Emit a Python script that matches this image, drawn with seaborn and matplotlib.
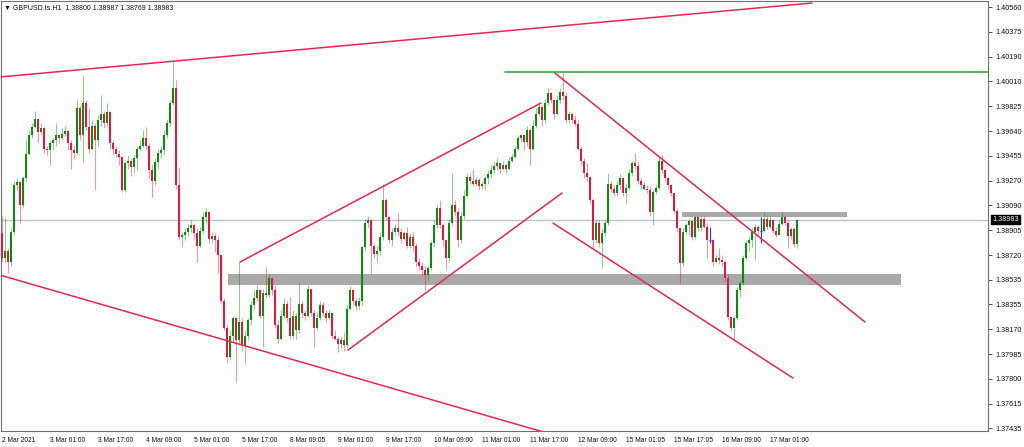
import matplotlib
matplotlib.use("Agg")
import matplotlib.pyplot as plt
import matplotlib.transforms as mtransforms
import numpy as np
import pandas as pd
import seaborn as sns

# ---------------------------------------------------------------
# GBPUSD H1 candles (2 Mar - 17 Mar 2021)
# ---------------------------------------------------------------
first_open = 1.3888

closes = [
    1.3870, 1.3875, 1.3867, 1.3889, 1.3924, 1.3926, 1.3909, 1.3929, 1.3947, 1.3961,
    1.3967, 1.3973, 1.3963, 1.3966, 1.3951, 1.3950, 1.3955, 1.3957, 1.3961, 1.3959,
    1.3962, 1.3964, 1.3955, 1.3950, 1.3948, 1.3981, 1.3961, 1.3985, 1.3967, 1.3951,
    1.3968, 1.3957, 1.3972, 1.3977, 1.3970, 1.3978, 1.3955, 1.3951, 1.3947, 1.3945,
    1.3920, 1.3940, 1.3942, 1.3937, 1.3944, 1.3951, 1.3953, 1.3959, 1.3953, 1.3935,
    1.3927, 1.3941, 1.3948, 1.3950, 1.3961, 1.3970, 1.3985, 1.3996, 1.3924, 1.3885,
    1.3887, 1.3889, 1.3892, 1.3894, 1.3888, 1.3879, 1.3890, 1.3900, 1.3904, 1.3884,
    1.3886, 1.3883, 1.3872, 1.3838, 1.3818, 1.3796, 1.3812, 1.3825, 1.3809, 1.3822,
    1.3805, 1.3812, 1.3824, 1.3835, 1.3840, 1.3846, 1.3827, 1.3844, 1.3842, 1.3855,
    1.3846, 1.3820, 1.3810, 1.3827, 1.3836, 1.3825, 1.3812, 1.3827, 1.3816, 1.3836,
    1.3829, 1.3827, 1.3847, 1.3829, 1.3818, 1.3825, 1.3835, 1.3829, 1.3825, 1.3829,
    1.3812, 1.3810, 1.3806, 1.3809, 1.3805, 1.3832, 1.3846, 1.3838, 1.3834, 1.3838,
    1.3878, 1.3896, 1.3898, 1.3879, 1.3873, 1.3875, 1.3885, 1.3913, 1.3900, 1.3883,
    1.3889, 1.3892, 1.3889, 1.3884, 1.3888, 1.3879, 1.3885, 1.3879, 1.3867, 1.3864,
    1.3861, 1.3857, 1.3862, 1.3881, 1.3894, 1.3907, 1.3894, 1.3883, 1.3870, 1.3896,
    1.3909, 1.3904, 1.3883, 1.3901, 1.3916, 1.3930, 1.3927, 1.3925, 1.3928, 1.3923,
    1.3925, 1.3929, 1.3932, 1.3935, 1.3938, 1.3940, 1.3936, 1.3939, 1.3936, 1.3942,
    1.3945, 1.3951, 1.3959, 1.3961, 1.3956, 1.3965, 1.3951, 1.3968, 1.3977, 1.3982,
    1.3972, 1.3985, 1.3992, 1.3987, 1.3977, 1.3987, 1.3993, 1.3990, 1.3972, 1.3977,
    1.3972, 1.3969, 1.3951, 1.3942, 1.3933, 1.3930, 1.3913, 1.3883, 1.3896, 1.3881,
    1.3888, 1.3896, 1.3925, 1.3921, 1.3918, 1.3924, 1.3929, 1.3918, 1.3922, 1.3933,
    1.3940, 1.3938, 1.3927, 1.3924, 1.3921, 1.3920, 1.3904, 1.3919, 1.3922, 1.3942,
    1.3935, 1.3929, 1.3924, 1.3918, 1.3905, 1.3892, 1.3866, 1.3889, 1.3894, 1.3897,
    1.3885, 1.3900, 1.3892, 1.3899, 1.3893, 1.3883, 1.3883, 1.3867, 1.3870, 1.3868,
    1.3867, 1.3855, 1.3826, 1.3818, 1.3825, 1.3846, 1.3851, 1.3870, 1.3881, 1.3883,
    1.3889, 1.3893, 1.3890, 1.3890, 1.3899, 1.3893, 1.3898, 1.3890, 1.3887, 1.3895,
    1.3900, 1.3896, 1.3886, 1.3891, 1.3880, 1.38983,
]

highs = [
    1.3901, 1.3900, 1.3877, 1.3892, 1.3927, 1.3929, 1.3927, 1.3931, 1.3957, 1.3965,
    1.3970, 1.3979, 1.3974, 1.3970, 1.3967, 1.3953, 1.3957, 1.3959, 1.3970, 1.3962,
    1.3966, 1.3968, 1.3965, 1.3957, 1.3953, 1.3988, 1.3983, 1.4005, 1.3987, 1.3981,
    1.3972, 1.3970, 1.3976, 1.3991, 1.3979, 1.3985, 1.3979, 1.3957, 1.3953, 1.3950,
    1.3945, 1.3942, 1.3946, 1.3944, 1.3946, 1.3953, 1.3957, 1.3965, 1.3967, 1.3955,
    1.3939, 1.3944, 1.3951, 1.3953, 1.3965, 1.3973, 1.3987, 1.4016, 1.4002, 1.3937,
    1.3889, 1.3892, 1.3895, 1.3898, 1.3896, 1.3892, 1.3893, 1.3904, 1.3907, 1.3905,
    1.3889, 1.3888, 1.3886, 1.3872, 1.3840, 1.3820, 1.3816, 1.3827, 1.3827, 1.3867,
    1.3825, 1.3816, 1.3825, 1.3838, 1.3846, 1.3850, 1.3847, 1.3847, 1.3863, 1.3858,
    1.3855, 1.3850, 1.3824, 1.3831, 1.3840, 1.3838, 1.3841, 1.3831, 1.3829, 1.3851,
    1.3838, 1.3831, 1.3850, 1.3846, 1.3831, 1.3829, 1.3838, 1.3837, 1.3831, 1.3831,
    1.3829, 1.3816, 1.3812, 1.3812, 1.3815, 1.3835, 1.3849, 1.3847, 1.3840, 1.3841,
    1.3879, 1.3899, 1.3901, 1.3899, 1.3881, 1.3879, 1.3889, 1.3925, 1.3914, 1.3901,
    1.3892, 1.3895, 1.3903, 1.3892, 1.3890, 1.3893, 1.3888, 1.3889, 1.3881, 1.3870,
    1.3867, 1.3864, 1.3864, 1.3883, 1.3898, 1.3909, 1.3913, 1.3896, 1.3884, 1.3899,
    1.3933, 1.3913, 1.3907, 1.3904, 1.3920, 1.3933, 1.3933, 1.3936, 1.3930, 1.3929,
    1.3927, 1.3931, 1.3935, 1.3939, 1.3942, 1.3944, 1.3941, 1.3942, 1.3940, 1.3945,
    1.3947, 1.3953, 1.3961, 1.3962, 1.3961, 1.3968, 1.3966, 1.3972, 1.3981, 1.3985,
    1.3983, 1.3988, 1.3996, 1.3993, 1.3988, 1.3991, 1.3996, 1.4007, 1.3993, 1.3979,
    1.3978, 1.3976, 1.3973, 1.3953, 1.3944, 1.3940, 1.3931, 1.3914, 1.3899, 1.3898,
    1.3891, 1.3898, 1.3933, 1.3927, 1.3924, 1.3927, 1.3932, 1.3930, 1.3925, 1.3936,
    1.3942, 1.3948, 1.3941, 1.3929, 1.3926, 1.3924, 1.3923, 1.3920, 1.3924, 1.3945,
    1.3946, 1.3936, 1.3930, 1.3925, 1.3919, 1.3907, 1.3893, 1.3892, 1.3896, 1.3899,
    1.3898, 1.3902, 1.3901, 1.3901, 1.3901, 1.3896, 1.3893, 1.3884, 1.3873, 1.3877,
    1.3872, 1.3868, 1.3858, 1.3827, 1.3827, 1.3848, 1.3853, 1.3872, 1.3883, 1.3886,
    1.3892, 1.3895, 1.3894, 1.3900, 1.3905, 1.3902, 1.3901, 1.3899, 1.3893, 1.3898,
    1.3904, 1.3902, 1.3898, 1.3893, 1.3893, 1.38987,
]

lows = [
    1.3867, 1.3866, 1.3859, 1.3864, 1.3887, 1.3920, 1.3896, 1.3907, 1.3927, 1.3946,
    1.3959, 1.3966, 1.3956, 1.3961, 1.3948, 1.3946, 1.3939, 1.3950, 1.3953, 1.3955,
    1.3957, 1.3960, 1.3950, 1.3936, 1.3944, 1.3946, 1.3957, 1.3941, 1.3965, 1.3948,
    1.3950, 1.3920, 1.3953, 1.3968, 1.3966, 1.3968, 1.3951, 1.3947, 1.3945, 1.3939,
    1.3919, 1.3919, 1.3936, 1.3931, 1.3933, 1.3935, 1.3950, 1.3952, 1.3950, 1.3929,
    1.3915, 1.3924, 1.3936, 1.3944, 1.3946, 1.3959, 1.3968, 1.3983, 1.3921, 1.3883,
    1.3878, 1.3883, 1.3886, 1.3889, 1.3884, 1.3867, 1.3878, 1.3888, 1.3896, 1.3881,
    1.3881, 1.3874, 1.3859, 1.3836, 1.3816, 1.3792, 1.3794, 1.3807, 1.3778, 1.3805,
    1.3801, 1.3792, 1.3809, 1.3820, 1.3832, 1.3838, 1.3825, 1.3804, 1.3840, 1.3841,
    1.3842, 1.3818, 1.3807, 1.3809, 1.3825, 1.3822, 1.3810, 1.3810, 1.3810, 1.3814,
    1.3825, 1.3824, 1.3826, 1.3827, 1.3804, 1.3816, 1.3824, 1.3827, 1.3822, 1.3824,
    1.3810, 1.3809, 1.3800, 1.3803, 1.3801, 1.3803, 1.3831, 1.3835, 1.3831, 1.3832,
    1.3835, 1.3875, 1.3893, 1.3858, 1.3870, 1.3867, 1.3872, 1.3883, 1.3898, 1.3881,
    1.3879, 1.3887, 1.3886, 1.3881, 1.3883, 1.3877, 1.3877, 1.3875, 1.3864, 1.3861,
    1.3857, 1.3846, 1.3853, 1.3861, 1.3879, 1.3892, 1.3892, 1.3879, 1.3861, 1.3867,
    1.3894, 1.3901, 1.3878, 1.3881, 1.3899, 1.3915, 1.3925, 1.3923, 1.3923, 1.3920,
    1.3921, 1.3920, 1.3925, 1.3929, 1.3933, 1.3935, 1.3933, 1.3935, 1.3933, 1.3935,
    1.3941, 1.3944, 1.3950, 1.3956, 1.3950, 1.3953, 1.3939, 1.3950, 1.3966, 1.3976,
    1.3968, 1.3970, 1.3983, 1.3985, 1.3973, 1.3976, 1.3985, 1.3987, 1.3970, 1.3970,
    1.3970, 1.3968, 1.3950, 1.3939, 1.3929, 1.3927, 1.3910, 1.3877, 1.3881, 1.3878,
    1.3862, 1.3886, 1.3894, 1.3919, 1.3916, 1.3916, 1.3921, 1.3916, 1.3910, 1.3921,
    1.3931, 1.3936, 1.3925, 1.3921, 1.3920, 1.3918, 1.3901, 1.3894, 1.3917, 1.3920,
    1.3933, 1.3927, 1.3921, 1.3916, 1.3903, 1.3889, 1.3851, 1.3864, 1.3887, 1.3887,
    1.3883, 1.3884, 1.3890, 1.3890, 1.3892, 1.3870, 1.3881, 1.3864, 1.3866, 1.3865,
    1.3864, 1.3853, 1.3824, 1.3816, 1.3809, 1.3824, 1.3841, 1.3850, 1.3868, 1.3875,
    1.3878, 1.3868, 1.3887, 1.3881, 1.3889, 1.3891, 1.3892, 1.3888, 1.3885, 1.3887,
    1.3894, 1.3894, 1.3877, 1.3884, 1.3878, 1.38769,
]

time_labels = [
    "2 Mar 2021", "3 Mar 01:00", "3 Mar 17:00", "4 Mar 09:00", "5 Mar 01:00",
    "5 Mar 17:00", "8 Mar 09:05", "9 Mar 01:00", "9 Mar 17:00", "10 Mar 09:00",
    "11 Mar 01:00", "11 Mar 17:00", "12 Mar 09:00", "15 Mar 01:05", "15 Mar 17:05",
    "16 Mar 09:00", "17 Mar 01:00",
]
time_label_bars = list(range(0, 257, 16))

price_ticks = [
    1.40560, 1.40375, 1.40190, 1.40010, 1.39825, 1.39640, 1.39455, 1.39270, 1.39090,
    1.38905, 1.38720, 1.38535, 1.38355, 1.38170, 1.37985, 1.37800, 1.37615, 1.37435,
]
last_price = 1.38983

# drawn objects: (bar, price) end points
red_lines = [
    ([-0.67, 270.0], [1.40041, 1.40590]),
    ([-0.67, 181.5], [1.38571, 1.37400]),
    ([79.33, 179.67], [1.38668, 1.39848]),
    ([115.33, 186.67], [1.38015, 1.39180]),
    ([184.33, 287.67], [1.40070, 1.38223]),
    ([183.67, 263.67], [1.38957, 1.37807]),
]
green_line = ([167.67, 330.0], [1.40078, 1.40078])
zones = [
    (75.33, 299.67, 1.38497, 1.38579),
    (226.67, 281.67, 1.39002, 1.39039),
]

# -----------------------------
# build candle table
# -----------------------------
df = pd.DataFrame({"close": closes, "high": highs, "low": lows})
df["open"] = [first_open] + closes[:-1]
df["bar"] = np.arange(len(df))
df["top"] = df[["open", "close"]].max(axis=1)
df["bot"] = df[["open", "close"]].min(axis=1)
df["high"] = np.maximum(df["high"], df["top"])
df["low"] = np.minimum(df["low"], df["bot"])

bull_col = "#0c8c0c"
bear_col = "#e3163f"
doji_col = "#2a2aff"
line_col = "#e3294f"

sns.set_style("white")
plt.rcParams["font.family"] = ["Liberation Sans", "DejaVu Sans"]

fig = plt.figure(figsize=(10.24, 4.47), dpi=100)
ax = fig.add_axes([1 / 1024, 16 / 447, 987 / 1024, 430 / 447])

# zones and price line under candles
for x0, x1, y0, y1 in zones:
    ax.fill_between([x0, x1], y0, y1, color="#a9a9a9", lw=0, zorder=1)
ax.axhline(last_price, color="#b9c3cd", lw=1.0, zorder=1)

for kind, sel, col in [
    ("bull", df.close > df.open, bull_col),
    ("bear", df.close < df.open, bear_col),
    ("doji", df.close == df.open, doji_col),
]:
    d = df[sel]
    ax.vlines(d.bar, d.low, d.high, color=col, lw=0.8,
              alpha=0.45 if kind != "doji" else 1.0, zorder=2)
    if kind == "doji":
        ax.hlines(d.close, d.bar - 0.35, d.bar + 0.35, color=col, lw=0.8, zorder=3)
    else:
        ax.bar(d.bar, np.maximum(d.top - d.bot, 0.00004), bottom=d.bot,
               width=0.62, color=col, lw=0, zorder=3)

for xs, ys in red_lines:
    sns.lineplot(x=xs, y=ys, ax=ax, color=line_col, lw=1.1, zorder=4)
sns.lineplot(x=green_line[0], y=green_line[1], ax=ax, color="#2f9a2f", lw=1.1, zorder=4)

ax.set_xlim(-1 / 3, 986 / 3)
ax.set_ylim(1.37414, 1.40605)

# right price axis
ax.yaxis.tick_right()
ax.set_yticks(price_ticks)
ax.set_yticklabels([f"{v:.5f}" for v in price_ticks])
ax.tick_params(axis="y", labelsize=5.2, length=3, width=0.6, pad=2,
               color="#333333", labelcolor="#111111")

# bottom time axis
ax.set_xticks(time_label_bars)
ax.set_xticklabels(time_labels)
for lab in ax.get_xticklabels():
    lab.set_horizontalalignment("left")
ax.tick_params(axis="x", labelsize=4.8, length=3, width=0.6, pad=1.5,
               color="#333333", labelcolor="#111111")

for sp in ax.spines.values():
    sp.set_color("#6f6f6f")
    sp.set_linewidth(0.8)

ax.set_xlabel("")
ax.set_ylabel("")

# last price box
trans = mtransforms.blended_transform_factory(ax.transAxes, ax.transData)
ax.text(1.004, last_price, f"{last_price:.5f}", transform=trans, ha="left", va="center",
        fontsize=5.2, color="white", zorder=6, clip_on=False,
        bbox=dict(boxstyle="square,pad=0.18", fc="black", ec="black"))

fig.text(4 / 1024, 1 - 8 / 447, "\u25bc GBPUSD.ts.H1  1.38800 1.38987 1.38769 1.38983",
         fontsize=5.0, va="center", ha="left", color="#111111")

fig.savefig("out.png", dpi=100, facecolor="white")
